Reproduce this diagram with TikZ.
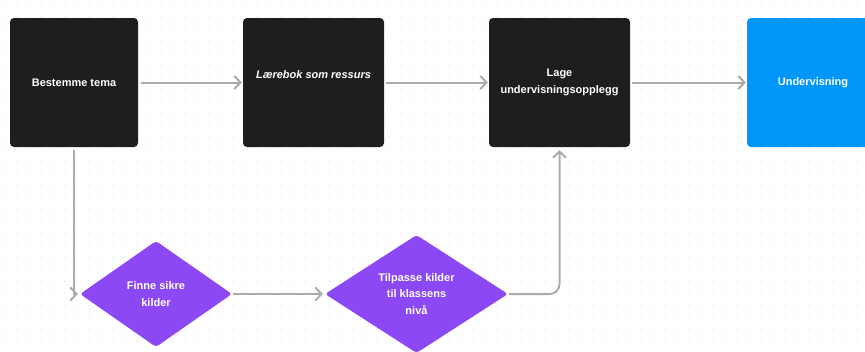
\documentclass[tikz,border=0pt]{standalone}
\usepackage{fontspec}
\setmainfont{Liberation Sans}
\usetikzlibrary{shapes.geometric,arrows.meta}
\definecolor{boxdark}{HTML}{1E1E1E}
\definecolor{boxblue}{HTML}{0096FA}
\definecolor{boxpurple}{HTML}{8C48F5}
\definecolor{arrgray}{HTML}{ABABAB}
\definecolor{dotgray}{HTML}{D4D4D4}
\tikzset{
  txt/.style={text=white, font=\bfseries\fontsize{11}{16.5}\selectfont, align=center},
  darkbox/.style={txt, fill=boxdark, rounded corners=4pt, minimum height=129pt, inner sep=0pt},
  bluebox/.style={txt, fill=boxblue, rounded corners=4pt, minimum height=129pt, inner sep=0pt},
  decision/.style={txt, diamond, fill=boxpurple, rounded corners=3pt, inner sep=0pt},
  arr/.style={draw=arrgray, line width=2pt, -{Straight Barb[length=6pt,width=13pt]}},
}
\begin{document}
\begin{tikzpicture}[x=1pt,y=-1pt]
\useasboundingbox (0,0) rectangle (865,351);
\clip (0,0) rectangle (865,351);
\fill[white] (0,0) rectangle (865,351);
\foreach \i in {0,...,72} {
  \foreach \j in {0,...,29} {
    \fill[dotgray] (5+12*\i, 5+12*\j) circle (0.6pt);
  }
}
\node[darkbox, minimum width=128pt] (b1) at (74,82.5) {Bestemme tema};
\node[darkbox, minimum width=141pt] (b2) at (313.5,82.5) {\itshape Lærebok som ressurs\\~};
\node[darkbox, minimum width=141pt] (b3) at (559.5,82.5) {Lage\\undervisningsopplegg};
\node[bluebox, minimum width=132pt] (b4) at (813,82.5) {Undervisning};
\node[decision, minimum width=152pt, minimum height=106pt, shape aspect=1.43] (d1) at (156,294) {Finne sikre\\kilder};
\node[decision, minimum width=183pt, minimum height=118pt, shape aspect=1.55] (d2) at (416.5,294) {Tilpasse kilder\\til klassens\\nivå};
\draw[arr] ([xshift=3pt]b1.east) -- ([xshift=-1pt]b2.west);
\draw[arr] ([xshift=2pt]b2.east) -- ([xshift=-1pt]b3.west);
\draw[arr] ([xshift=2pt]b3.east) -- ([xshift=-1pt]b4.west);
\draw[arr] ([yshift=-3pt]b1.south) |- ([xshift=-2pt]d1.west);
\draw[arr] ([xshift=1pt]d1.east) -- ([xshift=-2pt]d2.west);
\draw[arr, rounded corners=10pt] ([xshift=1pt]d2.east) -| ([yshift=-3pt]b3.south);
\end{tikzpicture}
\end{document}
